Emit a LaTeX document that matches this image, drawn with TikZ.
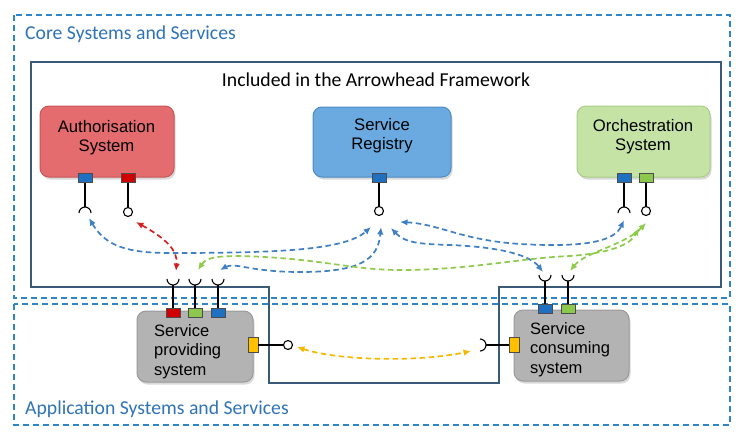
\documentclass[tikz,border=0pt]{standalone}
\usepackage{fontspec}
\setmainfont{Liberation Sans}
\newfontfamily\carlito{Carlito}
\usetikzlibrary{arrows.meta,shadows}
\definecolor{frameblue}{HTML}{2E86C8}
\definecolor{slate}{HTML}{3A5A78}
\definecolor{authfill}{HTML}{E46C6E}
\definecolor{authline}{HTML}{C95557}
\definecolor{regfill}{HTML}{6AAAE0}
\definecolor{regline}{HTML}{4F8CC4}
\definecolor{orchfill}{HTML}{C6E3A6}
\definecolor{orchline}{HTML}{A9CD86}
\definecolor{sysfill}{HTML}{B3B3B3}
\definecolor{sysline}{HTML}{9A9A9A}
\definecolor{pblue}{HTML}{1F70C1}
\definecolor{pred}{HTML}{D00000}
\definecolor{pgreen}{HTML}{8CC84B}
\definecolor{pyellow}{HTML}{FFC000}
\definecolor{ablue}{HTML}{3F7FC4}
\definecolor{agreen}{HTML}{8DCB4A}
\definecolor{ared}{HTML}{D42020}
\definecolor{ayellow}{HTML}{F5B800}
\definecolor{titleblue}{HTML}{2F73B8}
\begin{document}
\begin{tikzpicture}[x=1pt,y=-1pt,
  zone/.style={draw=frameblue, line width=1.2pt, dash pattern=on 6pt off 4pt},
  sysbox/.style={rounded corners=9pt, line width=1pt, inner sep=0pt,
    drop shadow={opacity=0.3, shadow xshift=1.5pt, shadow yshift=-2.5pt}},
  port/.style={draw=black!70, line width=0.5pt, inner sep=0pt, minimum width=14pt, minimum height=9pt},
  vport/.style={port, minimum width=10pt, minimum height=15pt},
  stem/.style={black, line width=1.3pt},
  ball/.style={circle, draw=black, line width=1.1pt, fill=white, inner sep=0pt, minimum size=9pt},
  flow/.style={line width=1.7pt, dash pattern=on 5.5pt off 3.5pt,
    {Latex[length=7.5pt,width=6.5pt]}-{Latex[length=7.5pt,width=6.5pt]}},
  boxtext/.style={font=\fontsize{16.7}{19}\selectfont, align=center, inner sep=0pt, anchor=base},
  systext/.style={font=\fontsize{16.5}{19.5}\selectfont, align=left, inner sep=0pt, anchor=base west},
  zonetitle/.style={font=\carlito\fontsize{19.7}{22}\selectfont, text=titleblue, anchor=base west, inner sep=0pt}
]
\useasboundingbox (0,0) rectangle (748,432);

% zones
\draw[zone] (14,15) rectangle (730,298);
\draw[zone] (14,304) rectangle (730,425);
\node[zonetitle] (coret) at (25,39) {Core Systems and Services};
\node[zonetitle] (appt) at (25,414) {Application Systems and Services};

% framework outline
\draw[slate, line width=1.3pt] (31,62) -- (721,62) -- (721,287) -- (499,287) -- (499,383)
  -- (269,383) -- (269,287) -- (31,287) -- cycle;
\node[font=\carlito\fontsize{19.7}{22}\selectfont, anchor=base, inner sep=0pt] (fwt) at (376,86)
  {Included in the Arrowhead Framework};

% systems
\node[sysbox, fill=authfill, draw=authline, minimum width=134pt, minimum height=71pt] (auth) at (107,141.5) {};
\node[sysbox, fill=regfill, draw=regline, minimum width=138pt, minimum height=70pt] (reg) at (382,142) {};
\node[sysbox, fill=orchfill, draw=orchline, minimum width=133pt, minimum height=71pt] (orch) at (643.5,141.5) {};
\node[sysbox, fill=sysfill, draw=sysline, minimum width=116pt, minimum height=71pt] (prov) at (195,346.5) {};
\node[sysbox, fill=sysfill, draw=sysline, minimum width=115pt, minimum height=71pt] (cons) at (571.5,345.5) {};

\node[boxtext] (autht) at (106.5,151) {Authorisation\\System};
\node[boxtext] (regt) at (382,149) {Service\\Registry};
\node[boxtext] (orcht) at (643,150) {Orchestration\\System};
\node[systext] (provt) at (154,375) {Service\\providing\\system};
\node[systext] (const) at (530,373) {Service\\consuming\\system};

% ports
\node[port, fill=pblue] (ap1) at (85,178) {};
\node[port, fill=pred] (ap2) at (128,178) {};
\node[port, fill=pblue] (rp1) at (379,178) {};
\node[port, fill=pblue] (op1) at (624,178) {};
\node[port, fill=pgreen] (op2) at (646,178) {};
\node[port, fill=pred] (pp1) at (173,313) {};
\node[port, fill=pgreen] (pp2) at (195,313) {};
\node[port, fill=pblue] (pp3) at (218,313) {};
\node[port, fill=pblue] (cp1) at (545,309) {};
\node[port, fill=pgreen] (cp2) at (568,309) {};
\node[vport, fill=pyellow] (pp4) at (253,345) {};
\node[vport, fill=pyellow] (cp3) at (514,345) {};

% balls (provided interfaces)
\node[ball] (ab2) at (128,212) {};
\node[ball] (rb1) at (379,211) {};
\node[ball] (ob2) at (646,211) {};
\node[ball] (pb4) at (288,345) {};
\draw[stem] (ap2.south) -- (ab2.north);
\draw[stem] (rp1.south) -- (rb1.north);
\draw[stem] (op2.south) -- (ob2.north);
\draw[stem] (pp4.east) -- (pb4.west);

% sockets (required interfaces)
\coordinate (as1) at (85,207);
\coordinate (os1) at (624,207);
\coordinate (ps1) at (173,285);
\coordinate (ps2) at (195,285);
\coordinate (ps3) at (218,285);
\coordinate (cs1) at (545,281);
\coordinate (cs2) at (568,281);
\coordinate (cs3) at (486,345);
\draw[stem] (ap1.south) -- (as1) (op1.south) -- (os1)
  (pp1.north) -- (ps1) (pp2.north) -- (ps2) (pp3.north) -- (ps3)
  (cp1.north) -- (cs1) (cp2.north) -- (cs2) (cp3.west) -- (cs3);
\draw[black, line width=1.1pt]
  (as1) ++(-6,6) arc[start angle=180, end angle=0, radius=6pt]
  (os1) ++(-6,6) arc[start angle=180, end angle=0, radius=6pt]
  (ps1) ++(-6,-6) arc[start angle=180, end angle=360, radius=6pt]
  (ps2) ++(-6,-6) arc[start angle=180, end angle=360, radius=6pt]
  (ps3) ++(-6,-6) arc[start angle=180, end angle=360, radius=6pt]
  (cs1) ++(-6,-6) arc[start angle=180, end angle=360, radius=6pt]
  (cs2) ++(-6,-6) arc[start angle=180, end angle=360, radius=6pt]
  (cs3) ++(-6,-6) arc[start angle=90, end angle=-90, radius=6pt];

% flow end points
\coordinate (fRa) at (136,222);  \coordinate (fRb) at (176,271);
\coordinate (fB1a) at (89,218);  \coordinate (fB1b) at (371,227);
\coordinate (fB2a) at (220,270); \coordinate (fB2b) at (381,227);
\coordinate (fB3a) at (391,228); \coordinate (fB3b) at (543,272);
\coordinate (fB4a) at (400,222); \coordinate (fB4b) at (624,220);
\coordinate (fG1a) at (198,270); \coordinate (fG1b) at (639,228);
\coordinate (fG2a) at (570,271); \coordinate (fG2b) at (646,223);
\coordinate (fYa) at (297,347);  \coordinate (fYb) at (471,351);

\draw[flow, ared] (fRa) .. controls (165,238) and (178,250) .. (fRb);
\draw[flow, ablue] (fB1a) .. controls (105,245) and (125,253) .. (170,253)
  .. controls (280,253) and (345,250) .. (fB1b);
\draw[flow, ablue] (fB2a) .. controls (235,262) and (250,272) .. (300,272)
  .. controls (360,272) and (378,260) .. (fB2b);
\draw[flow, ablue] (fB3a) .. controls (405,243) and (420,244) .. (450,245)
  .. controls (500,247) and (530,255) .. (fB3b);
\draw[flow, ablue] (fB4a) .. controls (440,224) and (460,240) .. (520,244)
  .. controls (590,248) and (615,240) .. (fB4b);
\draw[flow, agreen] (fG1a) .. controls (206,258) and (215,256) .. (240,256)
  .. controls (320,258) and (350,270) .. (400,270)
  .. controls (470,270) and (520,258) .. (570,256)
  .. controls (610,253) and (630,245) .. (fG1b);
\draw[flow, agreen] (fG2a) .. controls (585,252) and (625,245) .. (fG2b);
\draw[flow, ayellow] (fYa) .. controls (340,361) and (420,362) .. (fYb);
\end{tikzpicture}
\end{document}
